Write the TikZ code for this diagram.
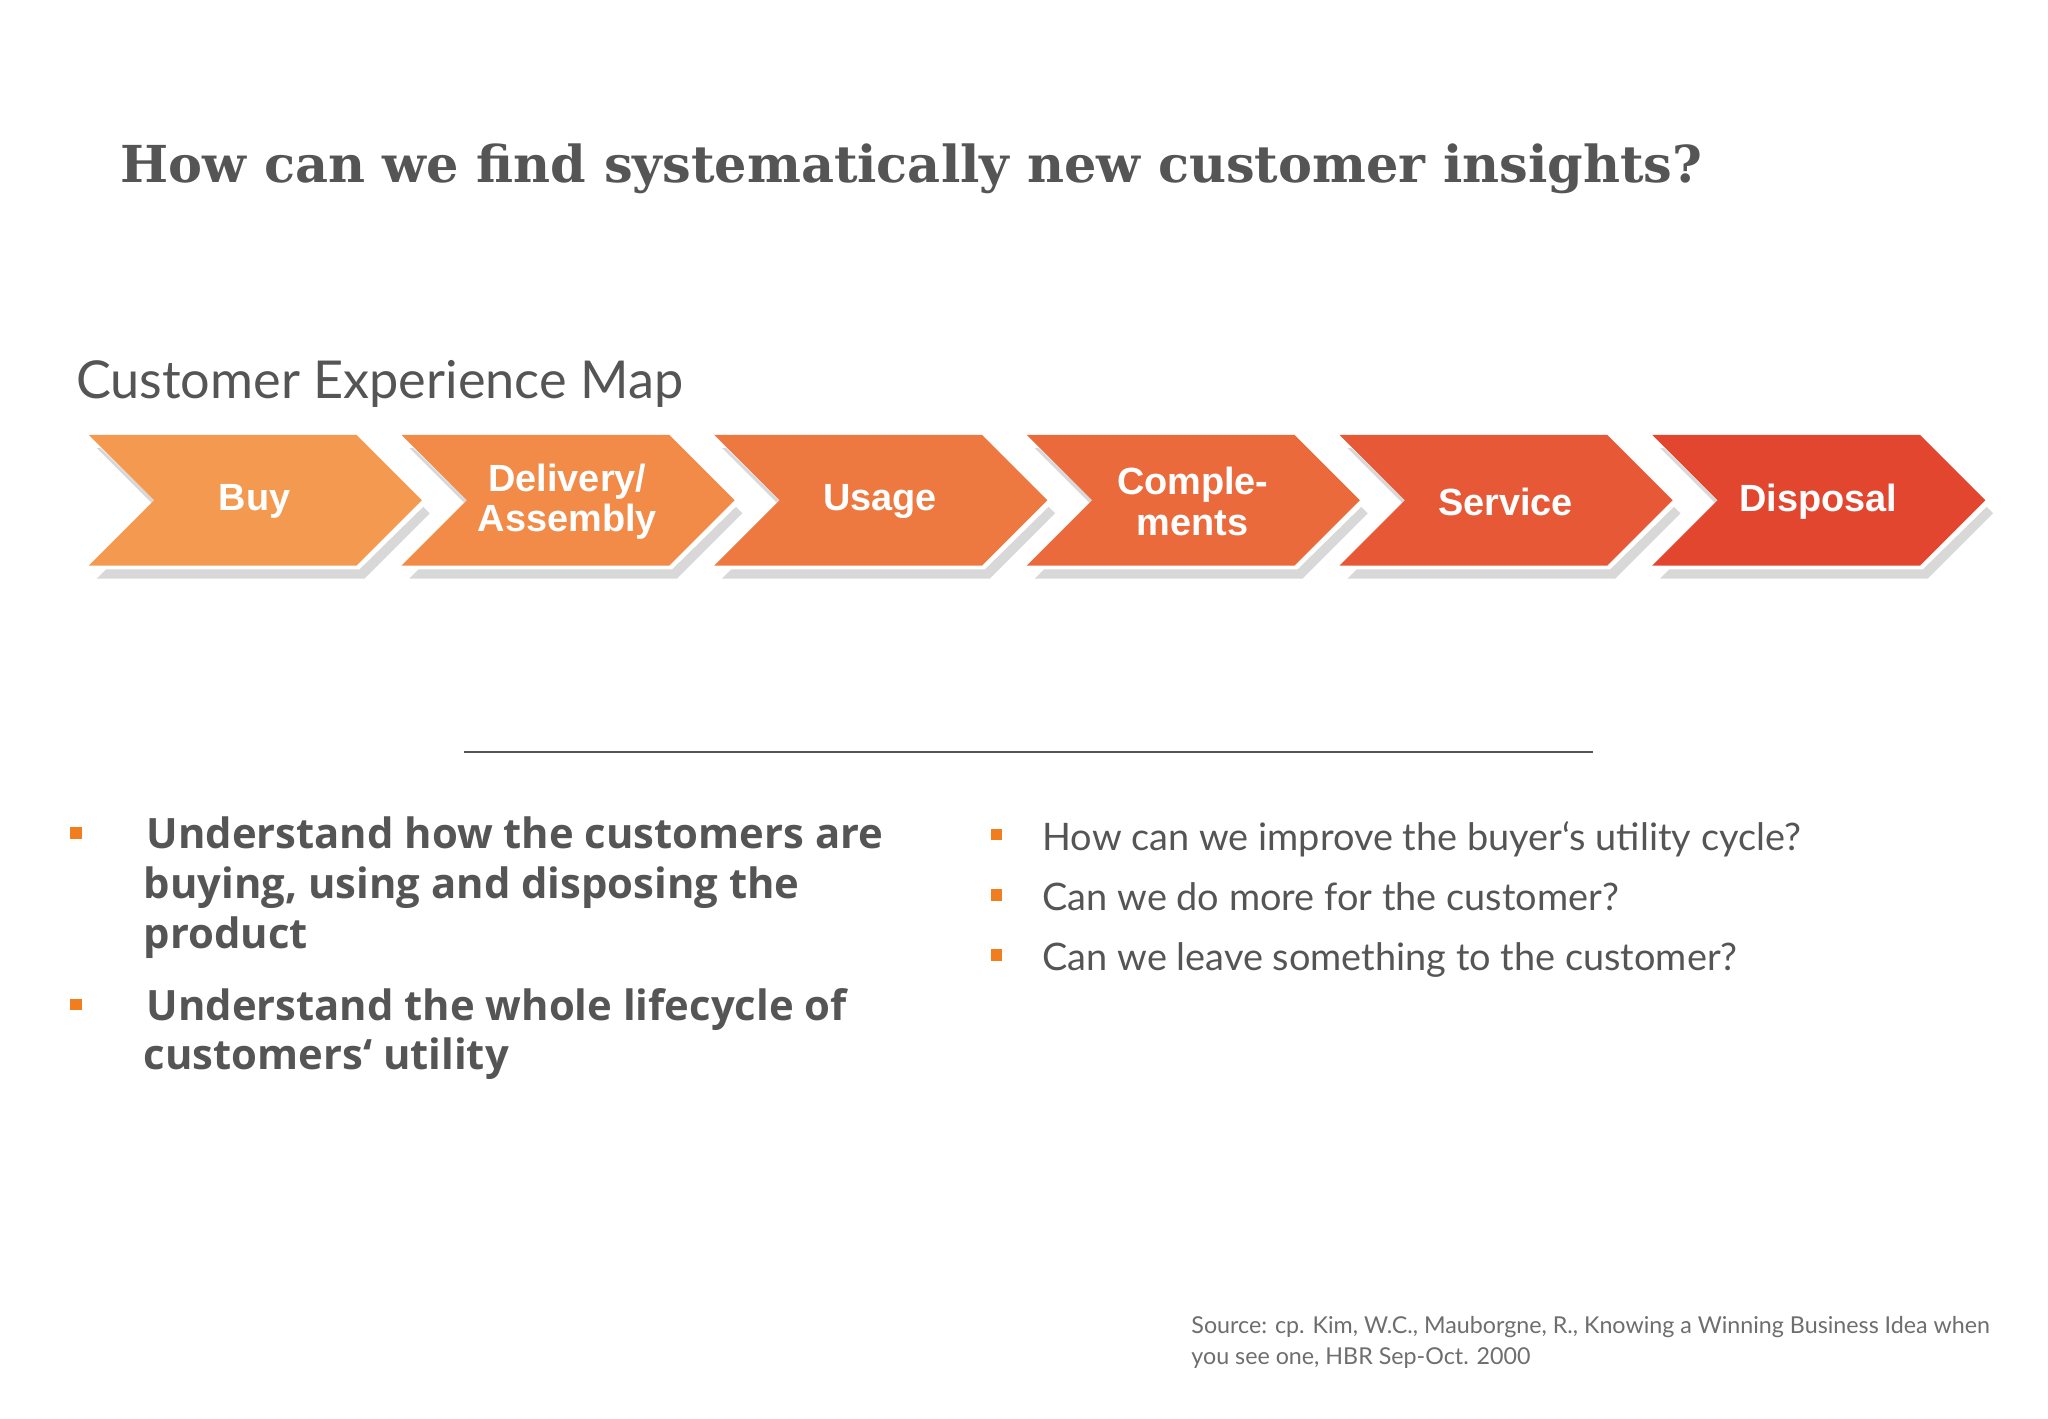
\documentclass[tikz,border=0pt]{standalone}
\usepackage{fontspec}
\setmainfont{Open Sans}
\newfontfamily\titlefont{DejaVu Serif}
\newfontfamily\chevfont{Liberation Sans}
\newfontfamily\lightfont{Lato}
\usetikzlibrary{calc}
\definecolor{txt}{HTML}{555555}
\definecolor{bul}{HTML}{F07E1E}
\tikzset{
  lbl/.style={font=\chevfont\bfseries\fontsize{29}{31}\selectfont, text=white, align=center},
  ltxt/.style={anchor=base west, text=txt, font=\bfseries\fontsize{32}{34}\selectfont, inner sep=0},
  rtxt/.style={anchor=base west, text=txt, font=\lightfont\fontsize{29}{31}\selectfont, inner sep=0},
  bsq/.style={fill=bul, minimum size=9, inner sep=0},
}
\begin{document}
\begin{tikzpicture}[x=1pt,y=-1pt]
\useasboundingbox[fill=white] (0,0) rectangle (1568,1086);
\node[anchor=base west, inner sep=0, text=txt, font=\titlefont\bfseries\fontsize{39}{41}\selectfont] (title) at (92,140) {How can we find systematically new customer insights?};
\node[anchor=base west, inner sep=0, text=txt, font=\lightfont\fontsize{40}{42}\selectfont] (sub) at (58,305) {Customer Experience Map};
\foreach \i/\c/\t [count=\k from 0] in {0/F39A50/Buy,1/F28A48/{Delivery/\\Assembly},2/EE7940/Usage,3/EB6A3B/{Comple-\\ments},4/E75836/Service,5/E3462F/Disposal}{
  \pgfmathsetmacro{\xo}{68+239.4*\k}
  \fill[black!25, opacity=0.6] ($(\xo,333)+(6,10)$) -- ++(205,0) -- ++(50,50) -- ++(-50,50) -- ++(-205,0) -- ++(50,-50) -- cycle;
  \fill[white] ($(\xo,333)+(-4,-3)$) -- ++(211,0) -- ++(54,53) -- ++(-54,53) -- ++(-211,0) -- ++(54,-53) -- cycle;
  \definecolor{cc}{HTML}{\c}
  \fill[cc] (\xo,333) -- ++(205,0) -- ++(50,50) -- ++(-50,50) -- ++(-205,0) -- ++(50,-50) -- cycle;
  \node[lbl] (ch\k) at (\xo+127,384) {\t};
}
\draw[txt, line width=1.5] (355,576) coordinate (la) -- (1220,576) coordinate (lb);
\node[bsq] (b1) at (58,638) {};
\node[ltxt] (l1) at (112,650) {Understand how the customers are};
\node[ltxt] (l2) at (110,688) {buying, using and disposing the};
\node[ltxt] (l3) at (110,726) {product};
\node[bsq] (b2) at (58,769) {};
\node[ltxt] (l4) at (112,781) {Understand the whole lifecycle of};
\node[ltxt] (l5) at (110,819) {customers‘ utility};
\node[bsq] (b3) at (763,639) {};
\node[rtxt] (r1) at (798,651) {How can we improve the buyer‘s utility cycle?};
\node[bsq] (b4) at (763,685) {};
\node[rtxt] (r2) at (798,697) {Can we do more for the customer?};
\node[bsq] (b5) at (763,731) {};
\node[rtxt] (r3) at (798,743) {Can we leave something to the customer?};
\node[anchor=base west, inner sep=0, text=txt!85, font=\lightfont\fontsize{17.8}{20}\selectfont] (s1) at (912,1021) {Source: cp. Kim, W.C., Mauborgne, R., Knowing a Winning Business Idea when};
\node[anchor=base west, inner sep=0, text=txt!85, font=\lightfont\fontsize{17.8}{20}\selectfont] (s2) at (912,1045) {you see one, HBR Sep-Oct. 2000};
\end{tikzpicture}
\end{document}
